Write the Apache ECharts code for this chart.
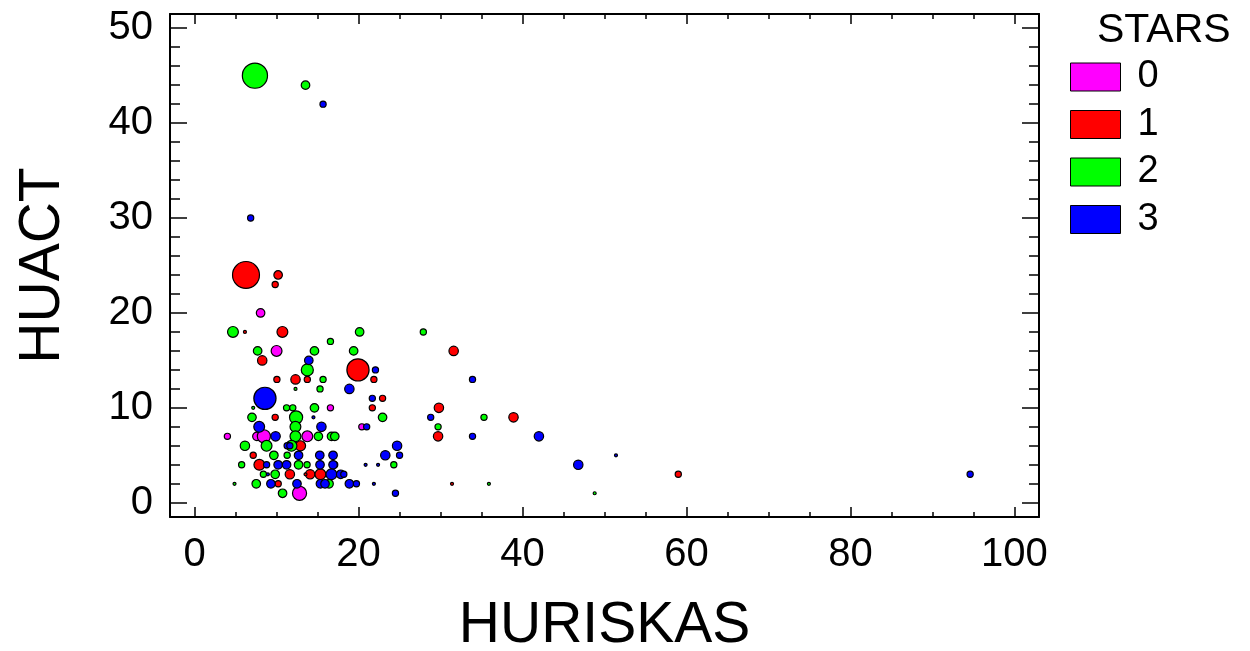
<!DOCTYPE html>
<html>
<head>
<meta charset="utf-8">
<script src="https://cdn.jsdelivr.net/npm/echarts@6/dist/echarts.min.js"></script>
<style>
  html, body { margin: 0; padding: 0; background: #ffffff; }
  #chart { width: 1250px; height: 651px; }
</style>
</head>
<body>
<div id="chart"></div>
<script>
// STARS groups and their fill colours
const categories = ['0', '1', '2', '3'];
const colors = ['#ff00ff', '#ff0000', '#00ff00', '#0000ff'];

// Each row: [HURISKAS, HUACT, weight]; weight drives the bubble size
const stars0 = [
  [8.05, 20, 3], [10.0, 16, 6], [4.0, 7, 1], [7.6, 7, 3], [8.45, 7, 10],
  [13.75, 7, 6], [16.57, 10, 1], [20.4, 8, 1], [12.8, 1, 12]
];
const stars1 = [
  [6.27, 24, 56], [10.19, 24, 3], [9.83, 23, 1], [10.71, 18, 6], [8.25, 15, 4],
  [19.93, 14, 36], [10.04, 13, 1], [12.31, 13, 4], [13.75, 13, 1], [21.87, 13, 1],
  [22.93, 11, 1], [21.68, 10, 1], [9.83, 9, 1], [12.92, 6, 5], [7.15, 5, 1],
  [7.9, 4, 6], [11.62, 3, 4], [14.09, 3, 4], [15.35, 3, 6], [10.2, 2, 1],
  [31.6, 16, 4], [29.8, 10, 4], [38.9, 9, 4], [29.7, 7, 4], [59.0, 3, 1],
  [6.14, 18, 0], [13.53, 3, 0], [31.4, 2, 0]
];
const stars2 = [
  [7.36, 45, 48], [13.53, 44, 3], [4.68, 18, 6], [20.13, 18, 3], [27.9, 18, 1],
  [16.57, 17, 1], [7.69, 16, 3], [14.62, 16, 3], [19.4, 16, 3], [13.75, 14, 8],
  [15.67, 13, 1], [15.3, 12, 1], [11.22, 10, 1], [11.98, 10, 1], [14.62, 10, 3],
  [7.0, 9, 3], [12.38, 9, 10], [22.93, 9, 3], [35.3, 9, 1], [12.3, 8, 6],
  [29.7, 8, 1], [12.3, 7, 6], [15.1, 7, 3], [16.7, 7, 3], [17.1, 7, 3],
  [6.14, 6, 4], [8.78, 6, 6], [11.82, 6, 6], [9.67, 5, 3], [11.29, 5, 1],
  [5.74, 4, 1], [12.68, 4, 3], [13.72, 4, 1], [17.09, 4, 1], [24.3, 4, 1],
  [8.39, 3, 1], [9.83, 3, 3], [7.52, 2, 3], [16.4, 2, 3], [10.73, 1, 3],
  [12.31, 12, 0], [7.15, 10, 0], [4.87, 2, 0], [35.9, 2, 0], [48.8, 1, 0]
];
const stars3 = [
  [15.67, 42, 1], [6.84, 30, 1], [13.93, 15, 3], [22.06, 14, 1], [18.88, 12, 4],
  [8.58, 11, 36], [21.68, 11, 1], [33.9, 13, 1], [7.88, 8, 6], [15.47, 8, 4],
  [20.99, 8, 1], [28.8, 9, 1], [9.88, 7, 4], [33.9, 7, 1], [42.0, 7, 4],
  [11.29, 6, 1], [11.62, 6, 1], [24.7, 6, 4], [12.68, 5, 3], [15.27, 5, 3],
  [16.89, 5, 3], [23.26, 5, 4], [25.0, 5, 1], [8.78, 4, 1], [10.19, 4, 3],
  [11.22, 4, 3], [15.3, 4, 3], [16.89, 4, 3], [46.8, 4, 4], [16.69, 3, 6],
  [17.82, 3, 3], [18.2, 3, 1], [9.31, 2, 3], [12.49, 2, 3], [15.35, 2, 3],
  [15.91, 2, 3], [18.88, 2, 3], [19.74, 2, 1], [24.5, 1, 1], [94.6, 3, 1],
  [14.5, 9, 0], [8.94, 3, 0], [20.86, 4, 0], [22.38, 4, 0], [21.87, 2, 0], [51.4, 5, 0]
];
const groups = [stars0, stars1, stars2, stars3];

// Axis ranges and tick positions
const xRange = [-3, 103];
const yRange = [-1.5, 51.5];
const xTicks = [0, 20, 40, 60, 80, 100];
const xMinorTicks = [5, 10, 15, 25, 30, 35, 45, 50, 55, 65, 70, 75, 85, 90, 95];
const yTicks = [0, 10, 20, 30, 40, 50];
const yMinorTicks = [2, 4, 6, 8, 12, 14, 16, 18, 22, 24, 26, 28, 32, 34, 36, 38, 42, 44, 46, 48];

const FONT = '"Liberation Sans", Arial, sans-serif';
const tickLine = { color: '#000', width: 1.5 };

// One axis per side and tick length; all share the same range as the data axes
function makeAxis(kind, position, ticks, len, opts) {
  const range = kind === 'x' ? xRange : yRange;
  return Object.assign({
    type: 'value',
    position: position,
    offset: 0,
    min: range[0],
    max: range[1],
    axisLine: { show: false, onZero: false },
    axisTick: { show: true, inside: true, length: len, customValues: ticks, lineStyle: tickLine },
    axisLabel: { show: false },
    splitLine: { show: false }
  }, opts || {});
}

const lineOn = { show: true, onZero: false, lineStyle: { color: '#000', width: 2 } };

const xAxes = [
  makeAxis('x', 'bottom', xTicks, 10, {
    axisLine: lineOn,
    name: 'HURISKAS',
    nameLocation: 'middle',
    nameGap: 81,
    nameTextStyle: { fontFamily: FONT, fontSize: 57, color: '#000' },
    axisLabel: { show: true, customValues: xTicks, margin: 18, fontFamily: FONT, fontSize: 40, color: '#000' }
  }),
  makeAxis('x', 'bottom', xMinorTicks, 5),
  makeAxis('x', 'top', xTicks, 10, { axisLine: lineOn }),
  makeAxis('x', 'top', xMinorTicks, 5)
];
const yAxes = [
  makeAxis('y', 'left', yTicks, 17, {
    axisLine: lineOn,
    name: 'HUACT',
    nameLocation: 'middle',
    nameGap: 98,
    nameTextStyle: { fontFamily: FONT, fontSize: 57, color: '#000' },
    axisLabel: { show: true, customValues: yTicks, margin: 17, fontFamily: FONT, fontSize: 40, color: '#000' }
  }),
  makeAxis('y', 'left', yMinorTicks, 10),
  makeAxis('y', 'right', yTicks, 17, { axisLine: lineOn }),
  makeAxis('y', 'right', yMinorTicks, 10)
];

const chart = echarts.init(document.getElementById('chart'), null, { renderer: 'canvas' });
chart.setOption({
  animation: false,
  backgroundColor: '#ffffff',
  color: colors,
  title: {
    text: 'STARS',
    left: 1097,
    top: 10,
    padding: 0,
    textStyle: { fontFamily: FONT, fontSize: 41, fontWeight: 'normal', color: '#000' }
  },
  legend: {
    orient: 'vertical',
    left: 1070,
    top: 58,
    padding: 0,
    icon: 'rect',
    itemWidth: 50,
    itemHeight: 28,
    itemGap: 9.5,
    itemStyle: { borderColor: '#000', borderWidth: 1 },
    textStyle: { fontFamily: FONT, fontSize: 38, color: '#000', padding: [0, 0, 0, 12] },
    data: categories
  },
  grid: { left: 170, right: 211, top: 14, bottom: 134, containLabel: false, outerBoundsMode: 'none' },
  xAxis: xAxes,
  yAxis: yAxes,
  series: categories.map((name, i) => ({
    name: name,
    type: 'scatter',
    xAxisIndex: 0,
    yAxisIndex: 0,
    data: groups[i],
    symbol: 'circle',
    symbolSize: v => 3 + 3.2 * Math.sqrt(v[2]),
    itemStyle: { color: colors[i], borderColor: '#000', borderWidth: 1.2, opacity: 1 },
    emphasis: { disabled: true }
  }))
});
</script>
</body>
</html>
